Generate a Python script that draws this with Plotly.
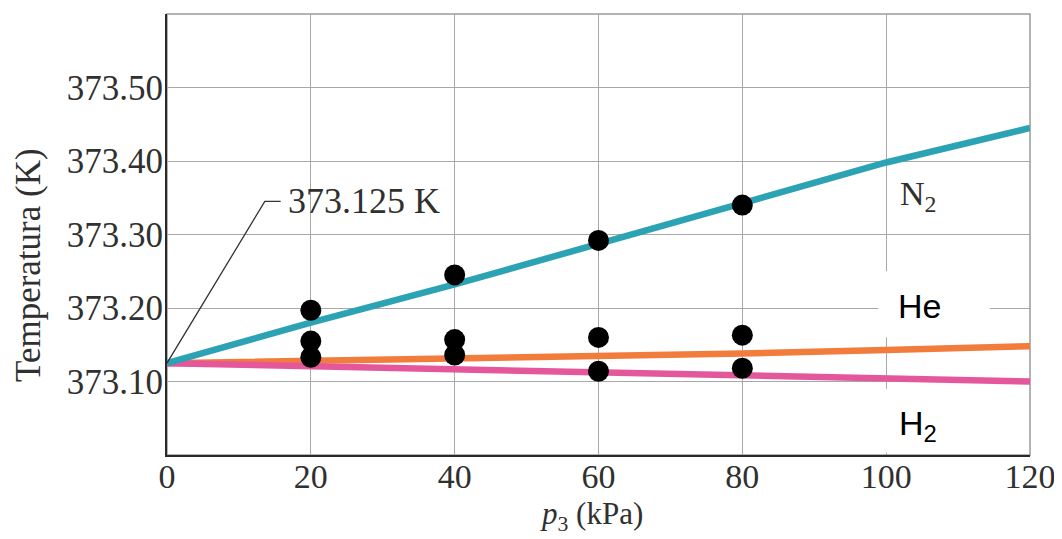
import plotly.graph_objects as go

# ---- data ----
pressure_kpa = [0, 20, 40, 60, 80, 100, 120]
temp_n2 = [373.125, 373.180, 373.232, 373.288, 373.342, 373.398, 373.445]
temp_he = [373.125, 373.128, 373.131, 373.134, 373.138, 373.143, 373.148]
temp_h2 = [373.125, 373.121, 373.117, 373.113, 373.108, 373.104, 373.100]

dot_pressure = [20, 40, 60, 80]
dot_upper = [373.197, 373.245, 373.292, 373.340]
dot_middle = [373.155, 373.157, 373.160, 373.163]
dot_lower = [373.133, 373.136, 373.114, 373.118]

x_ticks = [0, 20, 40, 60, 80, 100, 120]
y_ticks = [373.10, 373.20, 373.30, 373.40, 373.50]
y_tick_text = ["373.10", "373.20", "373.30", "373.40", "373.50"]

SERIF = "Liberation Serif, Times New Roman, serif"
SANS = "Liberation Sans, Arial, sans-serif"
TXT = "#303030"

fig = go.Figure()

line_specs = [
    (temp_he, "#f27c3c", "He"),
    (temp_h2, "#e4589b", "H2"),
    (temp_n2, "#2ba3b4", "N2"),
]
for ys, col, name in line_specs:
    fig.add_trace(go.Scatter(x=pressure_kpa, y=ys, mode="lines", name=name,
                             line=dict(color=col, width=6.5), hoverinfo="skip"))

for ys in (dot_upper, dot_middle, dot_lower):
    fig.add_trace(go.Scatter(x=dot_pressure, y=ys, mode="markers",
                             marker=dict(color="black", size=21), hoverinfo="skip"))

shapes = [
    dict(type="rect", xref="paper", yref="paper", x0=0, x1=1, y0=0, y1=1,
         line=dict(color="#9a9a9a", width=1.5), layer="below"),
    dict(type="path", xref="x", yref="y",
         path="M 0,373.125 L 13.6,373.345 L 15.8,373.345",
         line=dict(color="#333333", width=1.3), layer="above"),
    dict(type="rect", xref="x", yref="y", x0=98.9, x1=114.4, y0=373.160, y1=373.250,
         fillcolor="white", line=dict(width=0), layer="above"),
    dict(type="rect", xref="x", yref="y", x0=98.9, x1=114.4, y0=373.003, y1=373.090,
         fillcolor="white", line=dict(width=0), layer="above"),
]

annotations = [
    dict(x=16.6, y=373.345, xref="x", yref="y", text="373.125 K", showarrow=False,
         xanchor="left", yanchor="middle", font=dict(family=SERIF, size=36, color=TXT)),
    dict(x=101.6, y=373.352, xref="x", yref="y", text="N<sub>2</sub>", showarrow=False,
         xanchor="left", yanchor="middle", font=dict(family=SERIF, size=34, color=TXT)),
    dict(x=104.6, y=373.203, xref="x", yref="y", text="He", showarrow=False,
         xanchor="center", yanchor="middle", font=dict(family=SANS, size=34, color="black")),
    dict(x=104.4, y=373.040, xref="x", yref="y", text="H<sub>2</sub>", showarrow=False,
         xanchor="center", yanchor="middle", font=dict(family=SANS, size=34, color="black")),
    dict(x=-0.161, y=(455 - 265) / 441, xref="paper", yref="paper", text="Temperatura (K)",
         showarrow=False, textangle=-90, xanchor="center", yanchor="middle",
         font=dict(family=SERIF, size=35, color=TXT)),
    dict(x=(591 - 167) / 863, y=-(516 - 455) / 441, xref="paper", yref="paper",
         text="<i>p</i><sub>3</sub> (kPa)", showarrow=False,
         xanchor="center", yanchor="middle", font=dict(family=SERIF, size=31, color=TXT)),
]

# the page body has an 8px margin, so the figure is sized to fill the window from there
fig.update_layout(
    width=1054, height=531,
    margin=dict(l=159, r=32, t=6, b=84, autoexpand=False),
    paper_bgcolor="white", plot_bgcolor="white",
    showlegend=False,
    shapes=shapes, annotations=annotations,
    xaxis=dict(range=[0, 120], tickvals=x_ticks, ticks="", ticklabelstandoff=-10,
               automargin=False,
               showgrid=True, gridcolor="#a8a8a8", gridwidth=1.2, zeroline=False,
               showline=True, linecolor="#2a2a2a", linewidth=2,
               tickfont=dict(family=SERIF, size=34, color=TXT)),
    yaxis=dict(range=[373.0, 373.6], tickvals=y_ticks, ticktext=y_tick_text, ticks="",
               ticklabelstandoff=-5, automargin=False,
               showgrid=True, gridcolor="#a8a8a8", gridwidth=1.2, zeroline=False,
               showline=True, linecolor="#2a2a2a", linewidth=2,
               tickfont=dict(family=SERIF, size=35, color=TXT)),
)

fig.write_html("out.html")
